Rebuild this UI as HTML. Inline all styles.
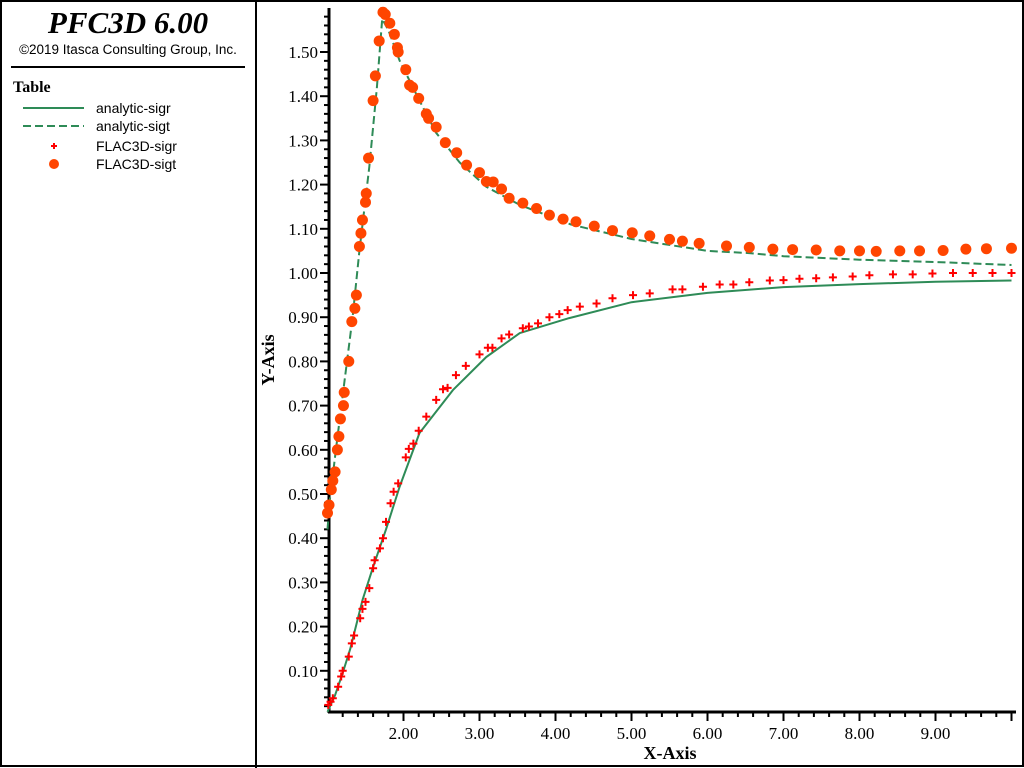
<!DOCTYPE html>
<html><head><meta charset="utf-8"><style>
html,body{margin:0;padding:0;background:#fff;}
svg{display:block;}
</style></head><body>
<svg id="chart" width="1024" height="768" viewBox="0 0 1024 768" xmlns="http://www.w3.org/2000/svg">
  <rect x="0" y="0" width="1024" height="768" fill="#fff"/>
  <rect x="1" y="1" width="1022" height="765" fill="none" stroke="#000" stroke-width="2"/>
  <line x1="256" y1="0" x2="256" y2="768" stroke="#000" stroke-width="2"/>
  <text x="128" y="33" text-anchor="middle" font-family="Liberation Serif, serif" font-weight="bold" font-style="italic" font-size="31">PFC3D 6.00</text>
  <text x="128" y="54" text-anchor="middle" font-family="Liberation Sans, sans-serif" font-size="13.5">©2019 Itasca Consulting Group, Inc.</text>
  <line x1="11" y1="67" x2="245" y2="67" stroke="#000" stroke-width="2"/>
  <g>
    <text x="13" y="92" font-family="Liberation Serif, serif" font-weight="bold" font-size="16">Table</text>
    <g>
      <line x1="23" y1="108" x2="84" y2="108" stroke="#2e8b57" stroke-width="2"/>
      <text x="96" y="113" font-family="Liberation Sans, sans-serif" font-size="14">analytic-sigr</text>
    </g>
    <g>
      <line x1="23" y1="126" x2="84" y2="126" stroke="#2e8b57" stroke-width="2" stroke-dasharray="8,4"/>
      <text x="96" y="131" font-family="Liberation Sans, sans-serif" font-size="14">analytic-sigt</text>
    </g>
    <g>
      <path d="M51 146 H57 M54 143 V149" stroke="#ff0000" stroke-width="2"/>
      <text x="96" y="151" font-family="Liberation Sans, sans-serif" font-size="14">FLAC3D-sigr</text>
    </g>
    <g>
      <circle cx="54" cy="164" r="5" fill="#ff4500"/>
      <text x="96" y="169" font-family="Liberation Sans, sans-serif" font-size="14">FLAC3D-sigt</text>
    </g>
  </g>
  <g id="axes"></g>
  <g id="series"></g>
  <text x="670" y="759" text-anchor="middle" font-family="Liberation Serif, serif" font-weight="bold" font-size="18">X-Axis</text>
  <text transform="translate(274,360) rotate(-90)" text-anchor="middle" font-family="Liberation Serif, serif" font-weight="bold" font-size="18">Y-Axis</text>
</svg>
<script>
const xTicks = [2, 3, 4, 5, 6, 7, 8, 9];
const xTickLabels = ["2.00","3.00","4.00","5.00","6.00","7.00","8.00","9.00"];
const yTicks = [0.1,0.2,0.3,0.4,0.5,0.6,0.7,0.8,0.9,1.0,1.1,1.2,1.3,1.4,1.5];
const yTickLabels = ["0.10","0.20","0.30","0.40","0.50","0.60","0.70","0.80","0.90","1.00","1.10","1.20","1.30","1.40","1.50"];

const sigrAnalyticX = [1.0,1.1,1.2,1.3,1.46,1.6,1.77,1.95,2.21,2.65,3.09,3.53,4.18,5,6,7,8,9,10];
const sigrAnalyticY = [0.007,0.045,0.095,0.15,0.26,0.335,0.42,0.517,0.638,0.735,0.81,0.864,0.898,0.934,0.955,0.968,0.975,0.98,0.983];
const sigtAnalyticX = [1.0,1.03,1.11,1.22,1.33,1.42,1.55,1.65,1.72,1.8,1.95,2.21,2.43,2.74,3.09,3.53,4.2,5,6,6.55,7,8,9,10];
const sigtAnalyticY = [0.42,0.486,0.60,0.75,0.90,1.05,1.24,1.42,1.575,1.55,1.48,1.39,1.317,1.25,1.195,1.154,1.11,1.077,1.05,1.045,1.038,1.03,1.025,1.018];

const sigtFlacX = [1.0,1.02,1.05,1.07,1.10,1.13,1.15,1.17,1.21,1.22,1.28,1.32,1.36,1.38,1.42,1.44,1.46,1.50,1.51,1.54,1.60,1.63,1.68,1.73,1.76,1.82,1.88,1.92,1.93,2.03,2.08,2.12,2.20,2.30,2.33,2.43,2.55,2.70,2.83,3.0,3.09,3.18,3.29,3.39,3.57,3.75,3.92,4.1,4.27,4.51,4.75,5.01,5.24,5.5,5.67,5.89,6.25,6.55,6.86,7.12,7.43,7.74,8.0,8.22,8.53,8.79,9.1,9.4,9.67,10.0];
const sigtFlacY = [0.457,0.475,0.51,0.53,0.55,0.60,0.63,0.67,0.70,0.73,0.80,0.89,0.92,0.95,1.06,1.09,1.12,1.16,1.18,1.26,1.39,1.446,1.525,1.59,1.585,1.565,1.54,1.51,1.50,1.46,1.425,1.42,1.395,1.36,1.35,1.33,1.295,1.272,1.244,1.227,1.207,1.206,1.19,1.169,1.158,1.146,1.131,1.122,1.116,1.106,1.096,1.091,1.084,1.076,1.072,1.067,1.061,1.058,1.054,1.053,1.052,1.05,1.05,1.049,1.05,1.05,1.051,1.054,1.055,1.056];

const sigrFlacX = [1.01,1.04,1.07,1.14,1.18,1.2,1.28,1.32,1.35,1.43,1.46,1.5,1.55,1.6,1.62,1.69,1.73,1.77,1.83,1.87,1.93,2.03,2.07,2.13,2.2,2.3,2.43,2.52,2.58,2.69,2.82,3.0,3.11,3.17,3.29,3.39,3.57,3.65,3.77,3.92,4.05,4.16,4.32,4.54,4.75,5.02,5.24,5.54,5.67,5.94,6.16,6.34,6.55,6.82,7.0,7.21,7.43,7.65,7.91,8.13,8.44,8.7,8.96,9.23,9.49,9.75,10.0];
const sigrFlacY = [0.023,0.03,0.038,0.064,0.087,0.10,0.132,0.162,0.18,0.219,0.24,0.256,0.287,0.332,0.35,0.377,0.40,0.437,0.479,0.505,0.524,0.583,0.602,0.614,0.643,0.675,0.713,0.737,0.74,0.769,0.79,0.816,0.831,0.831,0.852,0.861,0.875,0.879,0.886,0.90,0.907,0.916,0.924,0.931,0.943,0.95,0.954,0.963,0.963,0.969,0.974,0.974,0.979,0.983,0.984,0.987,0.988,0.99,0.992,0.995,0.997,0.997,0.999,1.0,1.0,1.0,1.0];

const NS = "http://www.w3.org/2000/svg";
const X0 = 327.5, XS = 76, Y0 = 715, YS = 442;
const AX_L = 329, AX_R = 1016, AX_T = 8, AX_B = 712;
function sx(v){ return X0 + (v - 1) * XS; }
function sy(v){ return Y0 - v * YS; }
function mk(tag, attrs, parent){
  const e = document.createElementNS(NS, tag);
  for (const k in attrs) e.setAttribute(k, attrs[k]);
  parent.appendChild(e);
  return e;
}
const axes = document.getElementById('axes');
const series = document.getElementById('series');

const yAxis = mk('line', {x1:AX_L, y1:AX_T, x2:AX_L, y2:AX_B+1, stroke:'#000', 'stroke-width':3}, axes);


const xAxis = mk('line', {x1:AX_L-1, y1:AX_B, x2:AX_R, y2:AX_B, stroke:'#000', 'stroke-width':3}, axes);



// minor y ticks every 0.02
for (let i = 1; i <= 80; i++) {
  const v = i * 0.02;
  const py = sy(v);
  if (py < AX_T || py > AX_B - 2) continue;
  const major = (i % 5 === 0);
  const t = mk('line', {x1: major ? AX_L - 9 : AX_L - 5, y1: py, x2: AX_L, y2: py, stroke:'#000', 'stroke-width':2}, axes);
  
  
}
yTicks.forEach((v, i) => {
  const t = mk('text', {x: AX_L - 11, y: sy(v) + 6, 'text-anchor':'end', 'font-family':'Liberation Serif, serif', 'font-size':17}, axes);
  t.textContent = yTickLabels[i];
  
  
});
// minor x ticks every 0.2
for (let i = 1; i <= 50; i++) {
  const v = 1 + i * 0.2;
  const px = sx(v);
  if (px < AX_L + 2 || px > AX_R) continue;
  const major = (i % 5 === 0);
  const t = mk('line', {x1: px, y1: AX_B, x2: px, y2: major ? AX_B + 9 : AX_B + 5, stroke:'#000', 'stroke-width':2}, axes);
  
  
}
xTicks.forEach((v, i) => {
  const t = mk('text', {x: sx(v), y: AX_B + 27, 'text-anchor':'middle', 'font-family':'Liberation Serif, serif', 'font-size':17}, axes);
  t.textContent = xTickLabels[i];
  
  
});

function pathFrom(xs, ys){
  return xs.map((x, i) => (i ? 'L' : 'M') + sx(x).toFixed(1) + ' ' + sy(ys[i]).toFixed(1)).join(' ');
}
const l1 = mk('path', {d: pathFrom(sigrAnalyticX, sigrAnalyticY), fill:'none', stroke:'#2e8b57', 'stroke-width':2, 'stroke-linejoin':'round'}, series);


const l2 = mk('path', {d: pathFrom(sigtAnalyticX, sigtAnalyticY), fill:'none', stroke:'#2e8b57', 'stroke-width':2, 'stroke-dasharray':'8,4'}, series);



sigtFlacX.forEach((x, i) => {
  const c = mk('circle', {cx: sx(x), cy: sy(sigtFlacY[i]), r: 5.5, fill:'#ff4500'}, series);
  
  
});
sigrFlacX.forEach((x, i) => {
  const px = sx(x), py = sy(sigrFlacY[i]);
  const p = mk('path', {d: `M${px-4} ${py} H${px+4} M${px} ${py-4} V${py+4}`, stroke:'#ff0000', 'stroke-width':2}, series);
  
  
});
</script>
</body></html>
